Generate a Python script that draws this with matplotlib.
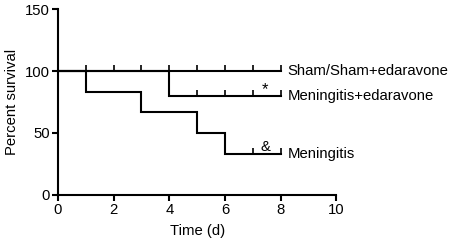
import matplotlib.pyplot as plt
from matplotlib.path import Path

plt.rcParams['font.family'] = ['Liberation Sans', 'DejaVu Sans']

# ---------------- DATA ----------------
sham_t = [0, 8]
sham_s = [100, 100]
sham_cens = [1, 2, 3, 4, 5, 6, 7, 8]

eda_t = [0, 4, 8]
eda_s = [100, 80, 80]
eda_cens = [5, 6, 7, 8]

men_t = [0, 1, 3, 5, 6, 8]
men_s = [100, 83.3, 66.7, 50, 33.3, 33.3]
men_cens = [7, 8]

labels = ["Sham/Sham+edaravone", "Meningitis+edaravone", "Meningitis"]

# ---------------- PLOT ----------------
fig = plt.figure(figsize=(4.5, 2.44), dpi=100)
ax = fig.add_axes([0.129, 0.201, 0.618, 0.762])

up_tick = Path([[0, 0], [0, 1]])  # censor mark pointing up


def step_at(t, times, surv):
    val = surv[0]
    for ti, si in zip(times, surv):
        if ti <= t:
            val = si
    return val


groups = [(sham_t, sham_s, sham_cens), (eda_t, eda_s, eda_cens), (men_t, men_s, men_cens)]
for times, surv, cens in groups:
    ax.plot(times, surv, drawstyle='steps-post', color='black', lw=1.5, solid_joinstyle='miter')
    cy = [step_at(c, times, surv) for c in cens]
    ax.plot(cens, cy, linestyle='none', marker=up_tick, markersize=8,
            markeredgecolor='black', markeredgewidth=1.2)

# group labels and significance marks
fs = 10.7
ax.text(8.25, 100, labels[0], fontsize=fs, va='center', ha='left', clip_on=False)
ax.text(8.25, 79.5, labels[1], fontsize=fs, va='center', ha='left', clip_on=False)
ax.text(8.25, 33, labels[2], fontsize=fs, va='center', ha='left', clip_on=False)
ax.text(7.45, 85, "*", fontsize=12, ha='center', va='center')
ax.text(7.45, 39, "&", fontsize=fs, ha='center', va='center')

ax.set_xlim(0, 10)
ax.set_ylim(0, 150)
ax.set_xticks([0, 2, 4, 6, 8, 10])
ax.set_yticks([0, 50, 100, 150])
ax.spines['top'].set_visible(False)
ax.spines['right'].set_visible(False)
for s in ['left', 'bottom']:
    ax.spines[s].set_linewidth(1.5)
ax.tick_params(direction='out', length=4, width=1.5, labelsize=fs, pad=2)
ax.set_xlabel("Time (d)", fontsize=fs, labelpad=5)
ax.set_ylabel("Percent survival", fontsize=fs, labelpad=4)

plt.savefig("out.png", dpi=100)
